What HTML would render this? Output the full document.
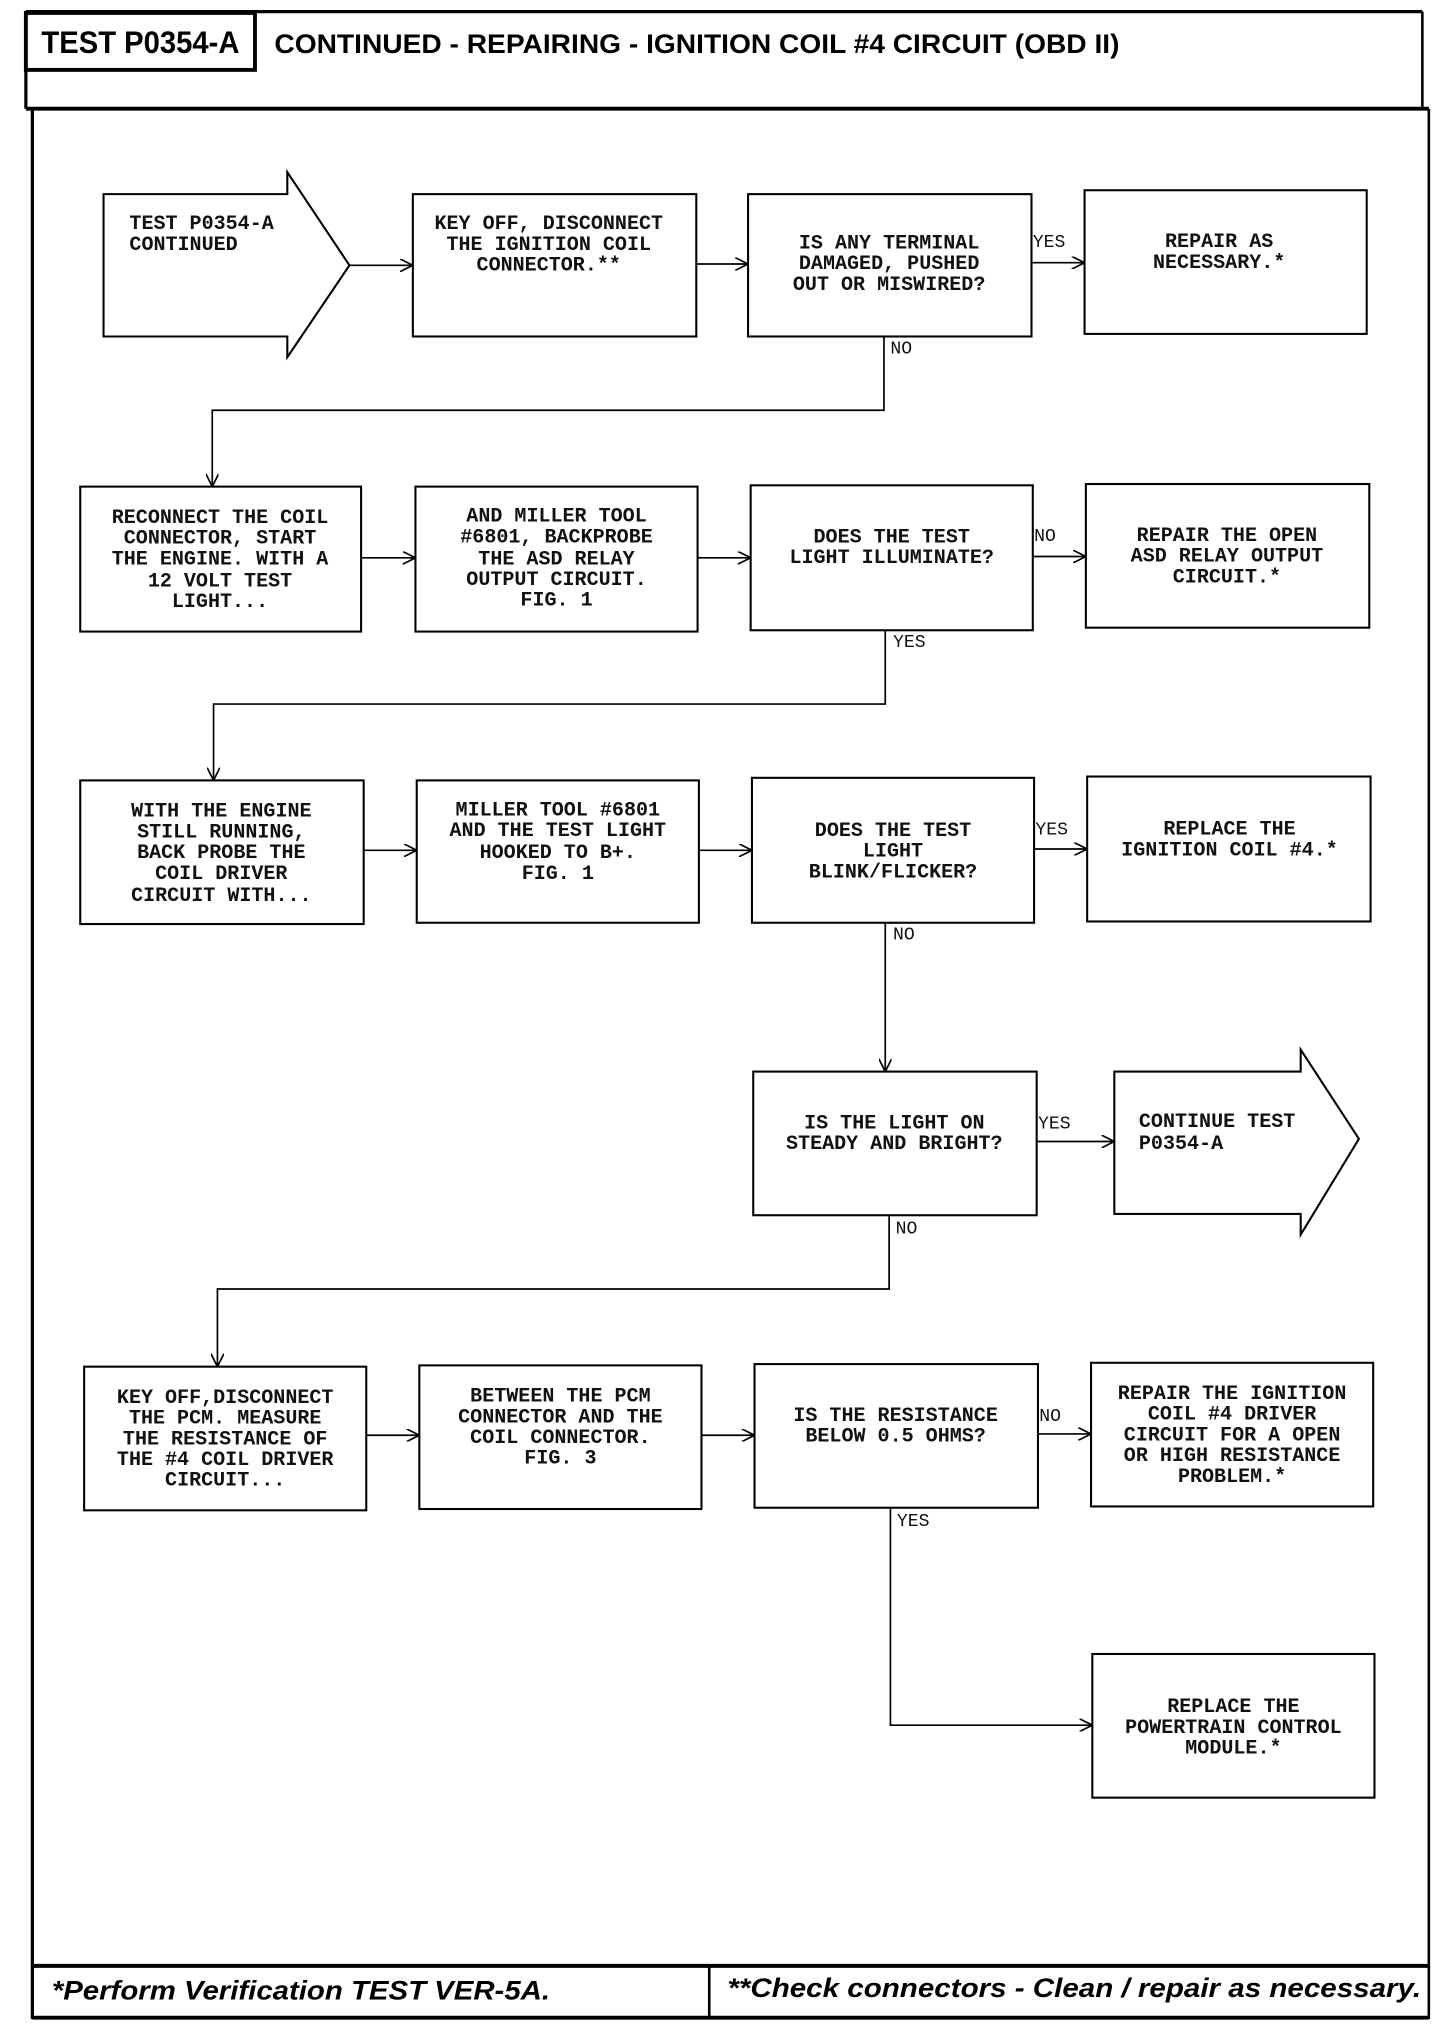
<!DOCTYPE html>
<html><head><meta charset="utf-8"><style>
html,body{margin:0;padding:0;background:#fff;}
svg{display:block;}
.t{font-family:"Liberation Mono",monospace;font-size:15.5px;font-weight:bold;fill:#111;}
.l{font-family:"Liberation Mono",monospace;font-size:14px;fill:#111;}
.h{font-family:"Liberation Sans",sans-serif;font-weight:bold;fill:#000;}
.f{font-family:"Liberation Sans",sans-serif;font-weight:bold;font-style:italic;fill:#000;}
rect,polygon{fill:none;stroke:#000;stroke-width:1.6;}
line,polyline{stroke:#000;stroke-width:1.3;fill:none;}
</style></head><body>
<svg width="1456" height="2028" viewBox="0 0 1125 1567" preserveAspectRatio="none" xmlns="http://www.w3.org/2000/svg">
<defs><marker id="a" viewBox="0 0 10 10" refX="10" refY="5" markerWidth="10" markerHeight="10" markerUnits="userSpaceOnUse" orient="auto"><polyline points="0,0 10,5 0,10" style="stroke:#000;stroke-width:1.3;fill:none"/></marker></defs>
<!-- frame -->
<line x1="20" y1="9" x2="1099" y2="9" style="stroke-width:2.5"/>
<line x1="20" y1="9" x2="20" y2="84" style="stroke-width:2.5"/>
<line x1="1099" y1="9" x2="1099" y2="84" style="stroke-width:2"/>
<line x1="20" y1="84" x2="1104" y2="84" style="stroke-width:3"/>
<line x1="25" y1="84" x2="25" y2="1560" style="stroke-width:2.5"/>
<line x1="1104" y1="84" x2="1104" y2="1560" style="stroke-width:2"/>
<line x1="25" y1="1519" x2="1104" y2="1519" style="stroke-width:3"/>
<line x1="25" y1="1559" x2="1104" y2="1559" style="stroke-width:3"/>
<line x1="548" y1="1519" x2="548" y2="1559" style="stroke-width:2"/>
<rect x="20" y="10" width="177" height="44" style="stroke-width:3"/>
<text class="h" x="32" y="41" font-size="24" textLength="153" lengthAdjust="spacingAndGlyphs">TEST P0354-A</text>
<text class="h" x="212" y="41" font-size="21" textLength="653" lengthAdjust="spacingAndGlyphs">CONTINUED - REPAIRING - IGNITION COIL #4 CIRCUIT (OBD II)</text>
<text class="f" x="40" y="1545" font-size="21" textLength="385" lengthAdjust="spacingAndGlyphs">*Perform Verification TEST VER-5A.</text>
<text class="f" x="562" y="1543" font-size="21" textLength="536" lengthAdjust="spacingAndGlyphs">**Check connectors - Clean / repair as necessary.</text>

<!-- row1 -->
<polygon points="80,150 222,150 222,133 270,205 222,276 222,260 80,260"/>
<text class="t" x="100" y="177">TEST P0354-A</text>
<text class="t" x="100" y="193">CONTINUED</text>
<rect x="319" y="150" width="219" height="110"/>
<g class="t" text-anchor="middle"><text x="424" y="177">KEY OFF, DISCONNECT</text><text x="424" y="193">THE IGNITION COIL</text><text x="424" y="209">CONNECTOR.**</text></g>
<rect x="578" y="150" width="219" height="110"/>
<g class="t" text-anchor="middle"><text x="687" y="192">IS ANY TERMINAL</text><text x="687" y="208">DAMAGED, PUSHED</text><text x="687" y="224">OUT OR MISWIRED?</text></g>
<rect x="838" y="147" width="218" height="111"/>
<g class="t" text-anchor="middle"><text x="942" y="191">REPAIR AS</text><text x="942" y="207">NECESSARY.*</text></g>
<line x1="270" y1="205" x2="319" y2="205" marker-end="url(#a)"/>
<line x1="538" y1="204" x2="578" y2="204" marker-end="url(#a)"/>
<line x1="797" y1="203" x2="838" y2="203" marker-end="url(#a)"/>
<text class="l" x="798" y="191">YES</text>
<text class="l" x="688" y="273">NO</text>
<polyline points="683,260 683,317 164,317 164,376" marker-end="url(#a)"/>

<!-- row2 -->
<rect x="62" y="376" width="217" height="112"/>
<g class="t" text-anchor="middle"><text x="170" y="404">RECONNECT THE COIL</text><text x="170" y="420">CONNECTOR, START</text><text x="170" y="436">THE ENGINE. WITH A</text><text x="170" y="453">12 VOLT TEST</text><text x="170" y="469">LIGHT...</text></g>
<rect x="321" y="376" width="218" height="112"/>
<g class="t" text-anchor="middle"><text x="430" y="403">AND MILLER TOOL</text><text x="430" y="419">#6801, BACKPROBE</text><text x="430" y="436">THE ASD RELAY</text><text x="430" y="452">OUTPUT CIRCUIT.</text><text x="430" y="468">FIG. 1</text></g>
<rect x="580" y="375" width="218" height="112"/>
<g class="t" text-anchor="middle"><text x="689" y="419">DOES THE TEST</text><text x="689" y="435">LIGHT ILLUMINATE?</text></g>
<rect x="839" y="374" width="219" height="111"/>
<g class="t" text-anchor="middle"><text x="948" y="418">REPAIR THE OPEN</text><text x="948" y="434">ASD RELAY OUTPUT</text><text x="948" y="450">CIRCUIT.*</text></g>
<line x1="279" y1="431" x2="321" y2="431" marker-end="url(#a)"/>
<line x1="539" y1="431" x2="580" y2="431" marker-end="url(#a)"/>
<line x1="798" y1="430" x2="839" y2="430" marker-end="url(#a)"/>
<text class="l" x="799" y="418">NO</text>
<text class="l" x="690" y="500">YES</text>
<polyline points="684,487 684,544 165,544 165,603" marker-end="url(#a)"/>

<!-- row3 -->
<rect x="62" y="603" width="219" height="111"/>
<g class="t" text-anchor="middle"><text x="171" y="631">WITH THE ENGINE</text><text x="171" y="647">STILL RUNNING,</text><text x="171" y="663">BACK PROBE THE</text><text x="171" y="679">COIL DRIVER</text><text x="171" y="696">CIRCUIT WITH...</text></g>
<rect x="322" y="603" width="218" height="110"/>
<g class="t" text-anchor="middle"><text x="431" y="630">MILLER TOOL #6801</text><text x="431" y="646">AND THE TEST LIGHT</text><text x="431" y="663">HOOKED TO B+.</text><text x="431" y="679">FIG. 1</text></g>
<rect x="581" y="601" width="218" height="112"/>
<g class="t" text-anchor="middle"><text x="690" y="646">DOES THE TEST</text><text x="690" y="662">LIGHT</text><text x="690" y="678">BLINK/FLICKER?</text></g>
<rect x="840" y="600" width="219" height="112"/>
<g class="t" text-anchor="middle"><text x="950" y="645">REPLACE THE</text><text x="950" y="661">IGNITION COIL #4.*</text></g>
<line x1="281" y1="657" x2="322" y2="657" marker-end="url(#a)"/>
<line x1="540" y1="657" x2="581" y2="657" marker-end="url(#a)"/>
<line x1="799" y1="656" x2="840" y2="656" marker-end="url(#a)"/>
<text class="l" x="800" y="645">YES</text>
<text class="l" x="690" y="726">NO</text>
<line x1="684" y1="713" x2="684" y2="828" marker-end="url(#a)"/>

<!-- row4 -->
<rect x="582" y="828" width="219" height="111"/>
<g class="t" text-anchor="middle"><text x="691" y="872">IS THE LIGHT ON</text><text x="691" y="888">STEADY AND BRIGHT?</text></g>
<line x1="801" y1="882" x2="861" y2="882" marker-end="url(#a)"/>
<text class="l" x="802" y="872">YES</text>
<polygon points="861,828 1005,828 1005,811 1050,880 1005,954 1005,938 861,938"/>
<text class="t" x="880" y="871">CONTINUE TEST</text>
<text class="t" x="880" y="888">P0354-A</text>
<text class="l" x="692" y="953">NO</text>
<polyline points="687,939 687,996 168,996 168,1056" marker-end="url(#a)"/>

<!-- row5 -->
<rect x="65" y="1056" width="218" height="111"/>
<g class="t" text-anchor="middle"><text x="174" y="1084">KEY OFF,DISCONNECT</text><text x="174" y="1100">THE PCM. MEASURE</text><text x="174" y="1116">THE RESISTANCE OF</text><text x="174" y="1132">THE #4 COIL DRIVER</text><text x="174" y="1148">CIRCUIT...</text></g>
<rect x="324" y="1055" width="218" height="111"/>
<g class="t" text-anchor="middle"><text x="433" y="1083">BETWEEN THE PCM</text><text x="433" y="1099">CONNECTOR AND THE</text><text x="433" y="1115">COIL CONNECTOR.</text><text x="433" y="1131">FIG. 3</text></g>
<rect x="583" y="1054" width="219" height="111"/>
<g class="t" text-anchor="middle"><text x="692" y="1098">IS THE RESISTANCE</text><text x="692" y="1114">BELOW 0.5 OHMS?</text></g>
<rect x="843" y="1053" width="218" height="111"/>
<g class="t" text-anchor="middle"><text x="952" y="1081">REPAIR THE IGNITION</text><text x="952" y="1097">COIL #4 DRIVER</text><text x="952" y="1113">CIRCUIT FOR A OPEN</text><text x="952" y="1129">OR HIGH RESISTANCE</text><text x="952" y="1145">PROBLEM.*</text></g>
<line x1="283" y1="1109" x2="324" y2="1109" marker-end="url(#a)"/>
<line x1="542" y1="1109" x2="583" y2="1109" marker-end="url(#a)"/>
<line x1="802" y1="1108" x2="843" y2="1108" marker-end="url(#a)"/>
<text class="l" x="803" y="1098">NO</text>
<text class="l" x="693" y="1179">YES</text>
<polyline points="688,1165 688,1333 844,1333" marker-end="url(#a)"/>
<rect x="844" y="1278" width="218" height="111"/>
<g class="t" text-anchor="middle"><text x="953" y="1323">REPLACE THE</text><text x="953" y="1339">POWERTRAIN CONTROL</text><text x="953" y="1355">MODULE.*</text></g>
</svg>
</body></html>
